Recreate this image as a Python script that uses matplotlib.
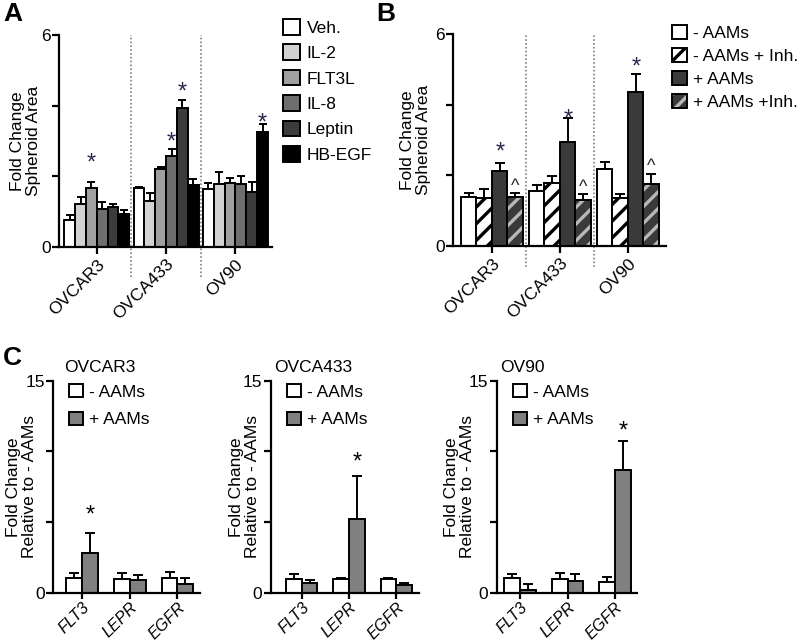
#!/usr/bin/env python3
"""Spheroid area (A, B) and qPCR fold change (C) bar panels."""
import matplotlib
matplotlib.use("Agg")
import matplotlib.pyplot as plt
from matplotlib.patches import Patch
from matplotlib.legend_handler import HandlerTuple
import numpy as np

# ---- data -------------------------------------------------------------
CELL_LINES = ["OVCAR3", "OVCA433", "OV90"]

A_TREATMENTS = ["Veh.", "IL-2", "FLT3L", "IL-8", "Leptin", "HB-EGF"]
A_MEAN = [
    [0.76, 1.21, 1.66, 1.08, 1.12, 0.92],   # OVCAR3
    [1.66, 1.31, 2.21, 2.58, 3.92, 1.75],   # OVCA433
    [1.65, 1.78, 1.80, 1.77, 1.55, 3.26],   # OV90
]
A_ERR = [
    [0.14, 0.20, 0.19, 0.20, 0.09, 0.13],
    [0.05, 0.21, 0.06, 0.19, 0.24, 0.18],
    [0.17, 0.35, 0.14, 0.25, 0.30, 0.21],
]
A_STARS = [(0, 2), (1, 3), (1, 4), (2, 5)]   # (cell line, treatment)

B_TREATMENTS = ["- AAMs", "- AAMs + Inh.", "+ AAMs", "+ AAMs +Inh."]
B_MEAN = [
    [1.40, 1.37, 2.13, 1.38],
    [1.56, 1.79, 2.93, 1.29],
    [2.17, 1.35, 4.37, 1.75],
]
B_ERR = [
    [0.09, 0.24, 0.22, 0.11],
    [0.17, 0.19, 0.70, 0.17],
    [0.20, 0.11, 0.50, 0.30],
]

C_GENES = ["FLT3", "LEPR", "EGFR"]
C_GROUPS = ["- AAMs", "+ AAMs"]
C_MEAN = {
    "OVCAR3":  [[1.01, 0.97, 1.01], [2.83, 0.87, 0.59]],
    "OVCA433": [[0.97, 0.97, 0.97], [0.71, 5.21, 0.54]],
    "OV90":    [[1.01, 0.97, 0.78], [0.19, 0.85, 8.68]],
}
C_ERR = {
    "OVCAR3":  [[0.41, 0.40, 0.48], [1.42, 0.38, 0.47]],
    "OVCA433": [[0.33, 0.04, 0.04], [0.19, 3.04, 0.12]],
    "OV90":    [[0.29, 0.45, 0.35], [0.42, 0.47, 2.07]],
}
C_STARS = {"OVCAR3": 0, "OVCA433": 1, "OV90": 2}   # gene index of + AAMs star

# ---- style ------------------------------------------------------------
W, H = 800, 644
FS = 12.5
STAR_COLOR = "#26264d"
plt.rcParams.update({
    "font.family": ["Liberation Sans", "DejaVu Sans"],
    "font.size": FS,
    "axes.linewidth": 1.6,
    "xtick.major.width": 1.6,
    "ytick.major.width": 1.6,
    "xtick.major.size": 5,
    "ytick.major.size": 5,
    "xtick.major.pad": 2,
    "ytick.major.pad": 1,
    "hatch.linewidth": 2.4,
    "legend.frameon": False,
})

# star / caret offsets above the error bar tip, in points (hand placed in the original)
A_STAR_OFF = [4.8, -3.2, -2.4, -7.5]
B_STAR_OFF = [-0.3, -9.0, -3.2]
B_CARET_OFF = -1.2
C_STAR_OFF = {"OVCAR3": 4.3, "OVCA433": 2.2, "OV90": -1.4}

fig = plt.figure(figsize=(W / 100, H / 100), dpi=100)


def add_axes_px(left, right, top, bottom):
    return fig.add_axes([left / W, 1 - bottom / H, (right - left) / W, (bottom - top) / H])


def style_axes(ax):
    for s in ("top", "right"):
        ax.spines[s].set_visible(False)
    ax.tick_params(direction="out")


def ylabel_px(ax, text, x_px, left, right):
    # x_px is the right-hand edge of the rotated label block
    ax.set_ylabel(text, linespacing=1.05)
    ax.yaxis.set_label_coords((x_px - left) / (right - left), 0.5)


A_COLORS = ["white", "#d2d2d2", "#a0a0a0", "#6e6e6e", "#3c3c3c", "#000000"]
B_FACE = ["white", "white", "#3a3a3a", "#3a3a3a"]
B_HATCH_COLOR = [None, "black", None, "#b8b8b8"]
C_COLORS = ["white", "#808080"]

# ---- panel A ----------------------------------------------------------
A_L, A_R, A_T, A_B = 59, 272, 35, 247
axA = add_axes_px(A_L, A_R, A_T, A_B)
style_axes(axA)
gap_a = 6.4
for g, cell in enumerate(CELL_LINES):
    x = g * gap_a + np.arange(len(A_TREATMENTS))
    axA.bar(x, A_MEAN[g], width=1.0, color=A_COLORS, edgecolor="black", linewidth=1.4,
            zorder=2)
    axA.errorbar(x, A_MEAN[g], yerr=[np.zeros(len(x)), A_ERR[g]], fmt="none",
                 ecolor="black", elinewidth=1.4, capsize=2.6, capthick=1.4, zorder=1)
for (g, t), off in zip(A_STARS, A_STAR_OFF):
    xs = g * gap_a + t
    axA.annotate("*", (xs, A_MEAN[g][t] + A_ERR[g][t]), xytext=(0, off),
                 textcoords="offset points", ha="center", va="bottom",
                 fontsize=17, color=STAR_COLOR)
for sep in (gap_a - 0.7, 2 * gap_a - 0.7):
    axA.plot([sep, sep], [-0.85, 6], ls=(0, (1, 1.3)), color="#808080", lw=1.2,
             clip_on=False, zorder=0)
axA.set_xlim(-0.99, 2 * gap_a + 5.87)
axA.set_ylim(0, 6)
axA.set_yticks([0, 2, 4, 6])
axA.set_yticklabels(["0", "", "", "6"])
axA.set_xticks([g * gap_a + 2.5 for g in range(3)])
axA.set_xticklabels(CELL_LINES, rotation=45, ha="right", rotation_mode="anchor")
ylabel_px(axA, "Fold Change\nSpheroid Area", 41, A_L, A_R)
handles = [Patch(facecolor=c, edgecolor="black", linewidth=1.4) for c in A_COLORS]
axA.legend(handles, A_TREATMENTS, loc="upper left", bbox_to_anchor=(283 / W, 1 - 19 / H),
           bbox_transform=fig.transFigure, borderpad=0, handlelength=1.0,
           handleheight=1.0, labelspacing=0.5, handletextpad=0.35, borderaxespad=0)

# ---- panel B ----------------------------------------------------------
B_L, B_R, B_T, B_B = 453, 666, 34, 246
axB = add_axes_px(B_L, B_R, B_T, B_B)
style_axes(axB)
gap_b = 4.38
for g, cell in enumerate(CELL_LINES):
    x = g * gap_b + np.arange(len(B_TREATMENTS))
    for i in range(len(B_TREATMENTS)):
        if B_HATCH_COLOR[i] is not None:
            axB.bar(x[i], B_MEAN[g][i], width=1.0, color=B_FACE[i],
                    edgecolor=B_HATCH_COLOR[i], hatch="//", linewidth=0, zorder=2)
            axB.bar(x[i], B_MEAN[g][i], width=1.0, fill=False, edgecolor="black",
                    linewidth=1.4, zorder=3)
        else:
            axB.bar(x[i], B_MEAN[g][i], width=1.0, color=B_FACE[i], edgecolor="black",
                    linewidth=1.4, zorder=2)
    axB.errorbar(x, B_MEAN[g], yerr=[np.zeros(len(x)), B_ERR[g]], fmt="none",
                 ecolor="black", elinewidth=1.4, capsize=3.4, capthick=1.4, zorder=1)
    axB.annotate("*", (x[2], B_MEAN[g][2] + B_ERR[g][2]), xytext=(0, B_STAR_OFF[g]),
                 textcoords="offset points", ha="center", va="bottom",
                 fontsize=17, color=STAR_COLOR)
    axB.annotate("^", (x[3], B_MEAN[g][3] + B_ERR[g][3]), xytext=(0, B_CARET_OFF),
                 textcoords="offset points", ha="center", va="bottom",
                 fontsize=13, color="#222222")
for sep in (gap_b - 0.69, 2 * gap_b - 0.69):
    axB.plot([sep, sep], [-0.6, 6], ls=(0, (1, 1.3)), color="#808080", lw=1.2,
             clip_on=False, zorder=0)
axB.set_xlim(-1.01, 2 * gap_b + 3.95)
axB.set_ylim(0, 6)
axB.set_yticks([0, 2, 4, 6])
axB.set_yticklabels(["0", "", "", "6"])
axB.set_xticks([g * gap_b + 1.5 for g in range(3)])
axB.set_xticklabels(CELL_LINES, rotation=45, ha="right", rotation_mode="anchor")
ylabel_px(axB, "Fold Change\nSpheroid Area", 431, B_L, B_R)
hb = [
    Patch(facecolor="white", edgecolor="black", linewidth=1.4),
    (Patch(facecolor="white", edgecolor="black", hatch="//", linewidth=0),
     Patch(fill=False, edgecolor="black", linewidth=1.4)),
    Patch(facecolor="#3a3a3a", edgecolor="black", linewidth=1.4),
    (Patch(facecolor="#3a3a3a", edgecolor="#b8b8b8", hatch="//", linewidth=0),
     Patch(fill=False, edgecolor="black", linewidth=1.4)),
]
axB.legend(hb, B_TREATMENTS, loc="upper left", bbox_to_anchor=(672 / W, 1 - 25 / H),
           bbox_transform=fig.transFigure, borderpad=0, handlelength=0.86,
           handleheight=0.86, labelspacing=0.4, handletextpad=0.35, borderaxespad=0,
           handler_map={tuple: HandlerTuple(ndivide=1, pad=0)})

# ---- panel C ----------------------------------------------------------
C_T, C_B = 380.7, 592.7
C_LAYOUT = {
    "OVCAR3":  (53, 200, 82.3, 47.6, 37, 100),
    "OVCA433": (270.7, 419, 301.7, 47.3, 260, 313),
    "OV90":    (496.7, 637, 520.0, 47.5, 475, 522),
}
for cell in CELL_LINES:
    left, right, x0, step, lab_x, title_x = C_LAYOUT[cell]
    ax = add_axes_px(left, right, C_T, C_B)
    style_axes(ax)
    xg = np.arange(len(C_GENES))
    bw = 0.333
    for j, grp in enumerate(C_GROUPS):
        xb = xg + (j - 0.5) * bw
        ax.bar(xb, C_MEAN[cell][j], width=bw, color=C_COLORS[j], edgecolor="black",
               linewidth=1.4, zorder=2)
        ax.errorbar(xb, C_MEAN[cell][j], yerr=[np.zeros(len(xb)), C_ERR[cell][j]],
                    fmt="none", ecolor="black", elinewidth=1.4, capsize=3.4,
                    capthick=1.4, zorder=1)
    k = C_STARS[cell]
    ax.annotate("*", (k + 0.5 * bw, C_MEAN[cell][1][k] + C_ERR[cell][1][k]),
                xytext=(0, C_STAR_OFF[cell]), textcoords="offset points",
                ha="center", va="bottom", fontsize=17, color="black")
    ax.set_xlim((left - x0) / step, (right - x0) / step)
    ax.set_ylim(0, 15)
    ax.set_yticks([0, 5, 10, 15])
    ax.set_yticklabels(["0", "", "", "15"])
    ax.set_xticks(xg)
    ax.set_xticklabels(C_GENES, rotation=45, ha="right", rotation_mode="anchor",
                       style="italic", fontsize=11.6)
    ax.tick_params(axis="x", pad=0.5, length=4.5)
    ylabel_px(ax, "Fold Change\nRelative to - AAMs", lab_x, left, right)
    hc = [Patch(facecolor=c, edgecolor="black", linewidth=1.4) for c in C_COLORS]
    ax.legend(hc, C_GROUPS, loc="upper left",
              bbox_to_anchor=((left + 16) / W, 1 - 384 / H),
              bbox_transform=fig.transFigure, borderpad=0, handlelength=0.8,
              handleheight=0.8, labelspacing=0.7, handletextpad=0.35, borderaxespad=0)
    fig.text(title_x / W, 1 - 368 / H, cell, ha="center", va="center", fontsize=FS)

# ---- panel letters ----------------------------------------------------
for letter, (px, py) in {"A": (3, 14), "B": (376, 14), "C": (3, 358)}.items():
    fig.text(px / W, 1 - py / H, letter, fontsize=19, fontweight="bold",
             ha="left", va="center")

fig.savefig("out.png", dpi=100)
